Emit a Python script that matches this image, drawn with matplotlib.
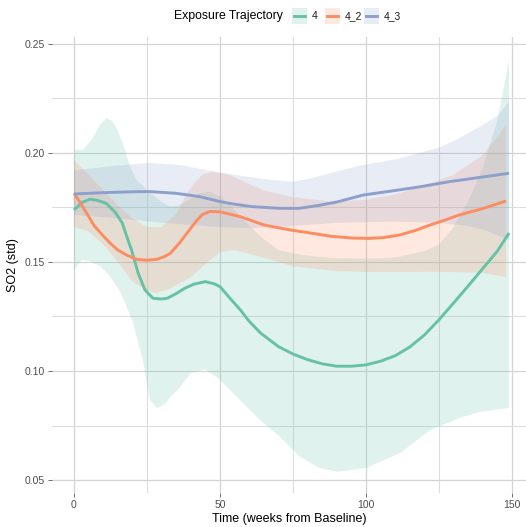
import numpy as np
import matplotlib
matplotlib.use("Agg")
import matplotlib.pyplot as plt
from matplotlib.patches import Rectangle
from matplotlib.lines import Line2D

plt.rcParams['font.family'] = ['Liberation Sans', 'DejaVu Sans']

# ---- data (smoothed fits with confidence bands) ----
groups = ['4', '4_2', '4_3']
colors = ['#66C2A5', '#FC8D62', '#8DA0CB']

# group 4
x_4 = [0, 3, 5.5, 8, 11, 14, 16.5, 18, 19.7, 22, 24.3, 27, 30, 32, 35, 38, 41, 45, 48, 50,
       53, 57, 60, 64, 70, 75, 80, 85, 90, 95, 100, 105, 110, 115, 120, 125, 130, 135, 140, 145, 149]
y_4 = [0.1739, 0.1775, 0.1788, 0.1783, 0.1769, 0.1730, 0.1680, 0.1620, 0.1555, 0.1448, 0.1372,
       0.1334, 0.1330, 0.1334, 0.1355, 0.1380, 0.1398, 0.1410, 0.1400, 0.1387, 0.1340, 0.1280,
       0.1228, 0.1173, 0.1112, 0.1078, 0.1052, 0.1033, 0.1022, 0.1022, 0.1028, 0.1045, 0.1070,
       0.1110, 0.1165, 0.1235, 0.1312, 0.1390, 0.1470, 0.1550, 0.1633]
xu_4 = [0, 3, 6, 9, 11, 13, 15, 17.5, 19.2, 21.5, 25, 30, 33, 36, 40, 43, 46.6, 50, 54, 57,
        64, 70, 78, 88, 100, 110, 120, 125, 130, 135, 140, 145, 149]
hi_4 = [0.2014, 0.2014, 0.2060, 0.2130, 0.2159, 0.2148, 0.2106, 0.2014, 0.1937, 0.1876, 0.1830,
        0.1775, 0.1754, 0.1760, 0.1790, 0.1815, 0.1823, 0.1800, 0.1755, 0.1708, 0.1616, 0.1555,
        0.1532, 0.1518, 0.1515, 0.1520, 0.1550, 0.1580, 0.1660, 0.1780, 0.1930, 0.2150, 0.2427]
xl_4 = [0, 2.7, 5, 9, 12, 16, 20, 23.6, 26, 28.4, 31, 33, 36, 40, 45, 50, 56.8, 63.7, 70.5,
        77.4, 84, 90, 100, 111.6, 122, 132, 139, 149]
lo_4 = [0.1463, 0.1510, 0.1505, 0.1480, 0.1440, 0.1360, 0.1230, 0.1050, 0.0867, 0.0830, 0.0845,
        0.0880, 0.0920, 0.0991, 0.1008, 0.0959, 0.0867, 0.0775, 0.0699, 0.0607, 0.0555, 0.0538,
        0.0555, 0.0623, 0.0729, 0.0784, 0.0813, 0.0830]

# group 4_2
x_42 = [0, 2, 4.5, 7, 10, 12.5, 15, 18, 21.5, 25, 28.3, 31, 33, 36, 38, 40, 42, 44, 46.6, 50,
        57, 65, 74, 80, 88, 95, 101, 106, 111.6, 117, 122, 127, 132, 140, 148]
y_42 = [0.1815, 0.1775, 0.1720, 0.1665, 0.1620, 0.1585, 0.1555, 0.1532, 0.1512, 0.1508, 0.1512,
        0.1525, 0.1540, 0.1585, 0.1620, 0.1655, 0.1690, 0.1718, 0.1732, 0.1730, 0.1708, 0.1670,
        0.1647, 0.1635, 0.1618, 0.1610, 0.1608, 0.1612, 0.1624, 0.1645, 0.1670, 0.1692, 0.1716,
        0.1745, 0.1780]
xu_42 = [0, 5, 10, 15, 20, 25, 30, 35, 38, 41, 44, 47.6, 52, 58, 64.7, 74, 88, 100, 110, 120,
         130, 140, 148]
hi_42 = [0.1968, 0.1900, 0.1830, 0.1760, 0.1700, 0.1660, 0.1660, 0.1720, 0.1800, 0.1860, 0.1900,
         0.1914, 0.1905, 0.1870, 0.1830, 0.1800, 0.1777, 0.1785, 0.1810, 0.1850, 0.1900, 0.1990,
         0.2128]
xl_42 = [0, 5, 10, 15, 20, 25, 28, 33, 40, 45, 50, 55, 65, 75, 90, 100, 125, 140, 148]
lo_42 = [0.1660, 0.1640, 0.1580, 0.1500, 0.1410, 0.1370, 0.1358, 0.1378, 0.1430, 0.1490, 0.1545,
         0.1555, 0.1520, 0.1480, 0.1458, 0.1454, 0.1455, 0.1450, 0.1430]

# group 4_3
x_43 = [0, 10, 20, 26, 35, 43, 50, 55, 61, 70.5, 77, 84, 90, 99, 110, 118.5, 128.8, 140, 149]
y_43 = [0.1812, 0.1818, 0.1822, 0.1823, 0.1815, 0.1800, 0.1777, 0.1765, 0.1754, 0.1746, 0.1746,
        0.1760, 0.1775, 0.1807, 0.1828, 0.1845, 0.1869, 0.1890, 0.1907]
xu_43 = [0, 13, 26, 36, 50, 65, 75, 80, 90, 99, 110, 118.5, 125, 130, 139, 145, 149]
hi_43 = [0.1920, 0.1940, 0.1954, 0.1945, 0.1910, 0.1880, 0.1868, 0.1880, 0.1915, 0.1945, 0.1970,
         0.2000, 0.2025, 0.2055, 0.2120, 0.2170, 0.2235]
xl_43 = [0, 15, 30, 50, 60, 75, 90, 110, 125, 135, 142, 149]
lo_43 = [0.1716, 0.1700, 0.1680, 0.1660, 0.1655, 0.1665, 0.1680, 0.1685, 0.1680, 0.1665, 0.1640,
         0.1600]

lines = [(x_4, y_4), (x_42, y_42), (x_43, y_43)]
uppers = [(xu_4, hi_4), (xu_42, hi_42), (xu_43, hi_43)]
lowers = [(xl_4, lo_4), (xl_42, lo_42), (xl_43, lo_43)]

# ---- figure ----
fig = plt.figure(figsize=(5.26, 5.27), dpi=100)
ax = fig.add_axes([52/526, 34/527, 474/526, 456/527])

for (xu, hi), (xl, lo), c in zip(uppers, lowers, colors):
    # band polygon: upper edge left->right, lower edge right->left
    px = list(xu) + list(xl)[::-1]
    py = list(hi) + list(lo)[::-1]
    ax.fill(px, py, color=c, alpha=0.2, lw=0, zorder=2)

for (xx, yy), c in zip(lines, colors):
    ax.plot(xx, yy, color=c, lw=2.1, solid_capstyle='butt', zorder=3)

ax.set_xlim(-7.53, 154.8)
ax.set_ylim(0.04404, 0.2532)
ax.set_xticks([0, 50, 100, 150])
ax.set_xticks([25, 75, 125], minor=True)
ax.set_yticks([0.05, 0.10, 0.15, 0.20, 0.25])
ax.set_yticklabels(['0.05', '0.10', '0.15', '0.20', '0.25'])
ax.set_yticks([0.075, 0.125, 0.175, 0.225], minor=True)
ax.grid(True, which='major', color='#D4D4D4', lw=0.9, zorder=0)
ax.grid(True, which='minor', color='#DDDDDD', lw=0.8, zorder=0)
ax.set_axisbelow(True)
for s in ax.spines.values():
    s.set_visible(False)
ax.tick_params(which='major', length=3, width=0.6, color='#555555',
               labelsize=7.5, labelcolor='#4D4D4D', pad=2)
ax.tick_params(which='minor', length=0)

ax.set_xlabel('Time (weeks from Baseline)', fontsize=9, color='black', labelpad=2)
ax.set_ylabel('SO2 (std)', fontsize=9, color='black', labelpad=4)

# legend on top (title left of keys, like ggplot)
fig.text(174/526, 1 - 16/527, 'Exposure Trajectory', fontsize=8.8,
         ha='left', va='center')
key_x = [292, 325, 364]
for kx, c, g in zip(key_x, colors, groups):
    fig.patches.append(Rectangle((kx/526, 1 - 24/527), 15/526, 16/527,
                                 transform=fig.transFigure, color=c, alpha=0.2, lw=0))
    fig.lines.append(Line2D([(kx + 2)/526, (kx + 13)/526], [1 - 16/527, 1 - 16/527],
                            transform=fig.transFigure, color=c, lw=2.1))
    fig.text((kx + 20)/526, 1 - 16/527, g, fontsize=7.5, color='#1A1A1A',
             ha='left', va='center')

fig.savefig('out.png', dpi=100)
